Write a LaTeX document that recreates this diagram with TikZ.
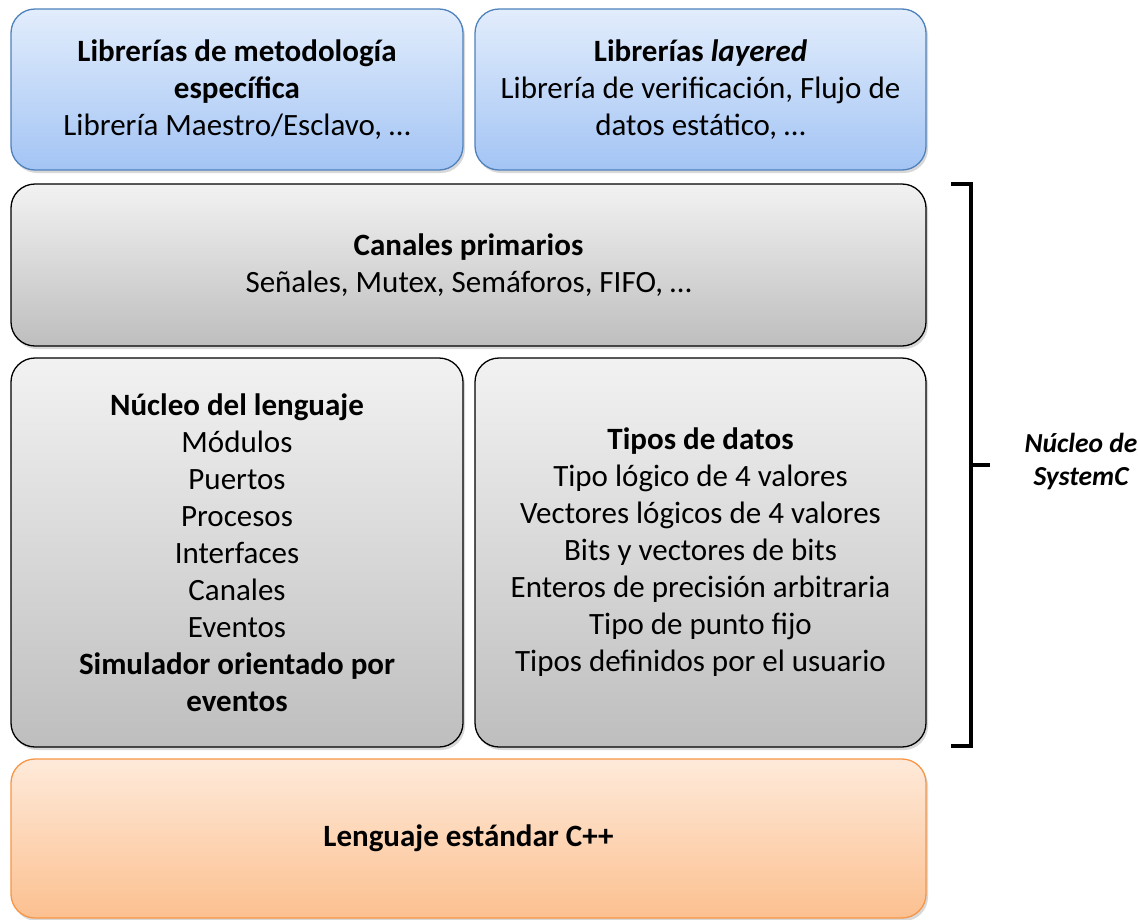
\documentclass[tikz,border=0pt]{standalone}
\usepackage{fontspec}
\setmainfont{Carlito}
\usetikzlibrary{shadows}
\definecolor{bluetop}{RGB}{226,237,252}
\definecolor{bluebot}{RGB}{163,196,244}
\definecolor{blueline}{RGB}{79,129,189}
\definecolor{graytop}{RGB}{242,242,242}
\definecolor{graybot}{RGB}{190,190,190}
\definecolor{orangetop}{RGB}{254,234,218}
\definecolor{orangebot}{RGB}{252,192,144}
\definecolor{orangeline}{RGB}{247,150,70}
\begin{document}
\begin{tikzpicture}[x=1pt,y=-1pt,
  box/.style={rounded corners=24pt, line width=1.3pt, align=center, inner sep=0pt,
    font=\fontsize{31}{37}\selectfont,
    drop shadow={opacity=0.3, shadow xshift=2pt, shadow yshift=-3pt}},
  bluebox/.style={box, draw=blueline, top color=bluetop, bottom color=bluebot},
  graybox/.style={box, draw=black, top color=graytop, bottom color=graybot},
  orangebox/.style={box, draw=orangeline, top color=orangetop, bottom color=orangebot},
  bracketline/.style={line width=4pt, line cap=butt, line join=miter}]
\useasboundingbox (0,0) rectangle (1138,919);
\fill[white] (0,0) rectangle (1138,919);

\node[bluebox, minimum width=452pt, minimum height=161pt] (lib1) at (237,89.5)
  {\textbf{Librerías de metodología}\\\textbf{específica}\\Librería Maestro/Esclavo, …};
\node[bluebox, minimum width=451pt, minimum height=161pt] (lib2) at (700.5,89.5)
  {\textbf{Librerías \textit{layered}}\\Librería de verificación, Flujo de\\datos estático, …};
\node[graybox, minimum width=915pt, minimum height=162pt] (canales) at (468.5,265)
  {\textbf{Canales primarios}\\Señales, Mutex, Semáforos, FIFO, …};
\node[graybox, minimum width=452pt, minimum height=389pt] (nucleo) at (237,552.5)
  {\textbf{Núcleo del lenguaje}\\Módulos\\Puertos\\Procesos\\Interfaces\\Canales\\Eventos\\\textbf{Simulador orientado por}\\\textbf{eventos}};
\node[graybox, minimum width=451pt, minimum height=389pt] (tipos) at (700.5,552.5)
  {\textbf{Tipos de datos}\\Tipo lógico de 4 valores\\Vectores lógicos de 4 valores\\Bits y vectores de bits\\Enteros de precisión arbitraria\\Tipo de punto fijo\\Tipos definidos por el usuario};
\node[orangebox, minimum width=915pt, minimum height=159pt] (cpp) at (468.5,838.5)
  {\textbf{Lenguaje estándar C++}};

\coordinate (bt) at (951,184);
\coordinate (btr) at (971,184);
\coordinate (bbr) at (971,746);
\coordinate (bb) at (951,746);
\coordinate (bm) at (971,465);
\coordinate (bmt) at (990,465);
\draw[bracketline] (bt) -- (btr) -- (bbr) -- (bb);
\draw[bracketline] (bm) -- (bmt);
\node[align=center, font=\fontsize{27.5}{33}\selectfont\bfseries\itshape] (lbl) at (1081,462)
  {Núcleo de\\SystemC};
\end{tikzpicture}
\end{document}
